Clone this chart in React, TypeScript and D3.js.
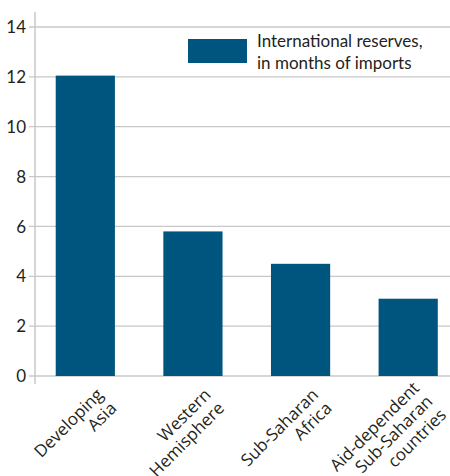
import React from "react";
import * as d3 from "d3";

const categories: string[][] = [
  ["Developing", "Asia"],
  ["Western", "Hemisphere"],
  ["Sub-Saharan", "Africa"],
  ["Aid-dependent", "Sub-Saharan", "countries"],
];
const values: number[] = [12.05, 5.8, 4.5, 3.1];
const yTicks: number[] = [0, 2, 4, 6, 8, 10, 12, 14];
const legendLines: string[] = ["International reserves,", "in months of imports"];

const W = 450;
const H = 476;
const FONT = "Lato, 'Open Sans', sans-serif";
const LABEL_FONT = "'Open Sans', Lato, sans-serif";
const BAR = "#00557f";
const GRID = "#c8c8c8";
const TEXT = "#231f20";

export default function App() {
  const x = d3
    .scaleBand<number>()
    .domain(categories.map((_, i) => i))
    .range([31.5, 462])
    .paddingInner(0.45)
    .paddingOuter(0.225);
  const y = d3.scaleLinear().domain([0, 14]).range([376, 27]);
  const axisX = 35;
  const lh = 19;

  return (
    <svg
      width={W}
      height={H}
      style={{ position: "absolute", left: 0, top: 0, background: "#fff" }}
      fontFamily={FONT}
    >
      {yTicks.map((t) => (
        <g key={t}>
          <line x1={29} x2={W} y1={y(t)} y2={y(t)} stroke={GRID} strokeWidth={1.3} />
          <text
            x={26}
            y={y(t)}
            dy="0.36em"
            textAnchor="end"
            fontSize={17}
            fill={TEXT}
          >
            {t}
          </text>
        </g>
      ))}
      <line x1={axisX} x2={axisX} y1={12} y2={384} stroke={GRID} strokeWidth={1.5} />
      {values.map((v, i) => (
        <rect
          key={i}
          x={x(i)}
          y={y(v)}
          width={x.bandwidth()}
          height={y(0) - y(v)}
          fill={BAR}
        />
      ))}
      {categories.map((lines, i) => {
        const cx = (x(i) as number) + x.bandwidth() / 2;
        const n = lines.length;
        return (
          <g key={i} transform={`translate(${cx + 22},${399}) rotate(-45)`}>
            {lines.map((l, j) => (
              <text
                key={j}
                x={0}
                y={(j - (n - 1) / 2) * lh + 5}
                textAnchor="end"
                fontSize={17}
                fontFamily={LABEL_FONT}
                fill={TEXT}
              >
                {l}
              </text>
            ))}
          </g>
        );
      })}
      <rect x={188} y={39} width={59} height={24} fill={BAR} />
      {legendLines.map((l, j) => (
        <text key={j} x={257} y={47 + j * 22} fontSize={17} fill={TEXT}>
          {l}
        </text>
      ))}
    </svg>
  );
}
